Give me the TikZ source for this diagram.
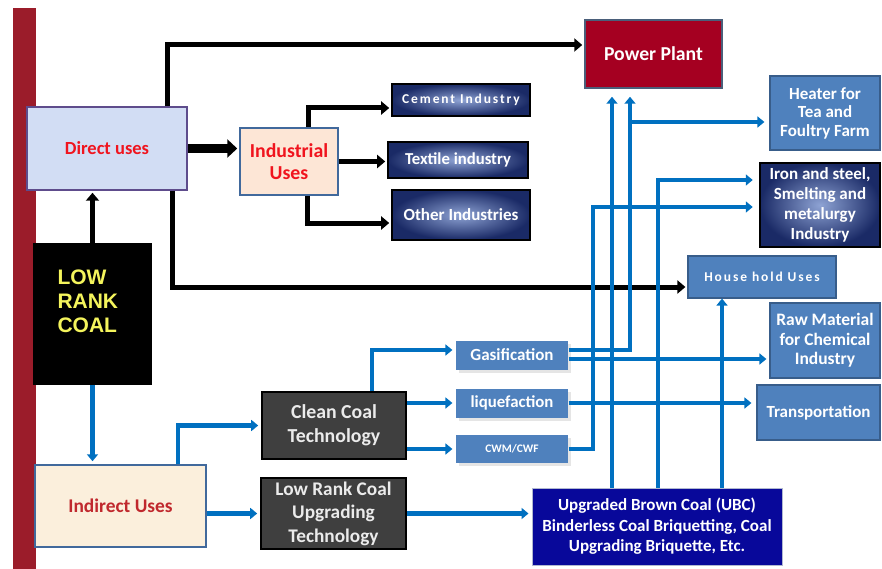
\documentclass[tikz,border=0pt]{standalone}
\usepackage{fontspec}
\setmainfont{Carlito}
\newfontfamily\arialbf{Liberation Sans}
\newfontfamily\spaced[LetterSpace=14]{Carlito}
\usetikzlibrary{arrows.meta,positioning,calc,shadows}
\definecolor{barred}{HTML}{9B1C2A}
\definecolor{ppred}{HTML}{A50021}
\definecolor{ppedge}{HTML}{4A5F7A}
\definecolor{flowblue}{HTML}{0070C0}
\definecolor{steelfill}{HTML}{4F81BD}
\definecolor{steeledge}{HTML}{385D8A}
\definecolor{navyin}{HTML}{8EA3D4}
\definecolor{navyout}{HTML}{1A2A66}
\definecolor{darkfill}{HTML}{3F3F3F}
\definecolor{ubcfill}{HTML}{08089A}
\definecolor{ubcedge}{HTML}{B0B8D0}
\definecolor{peachfill}{HTML}{FDE6D6}
\definecolor{creamfill}{HTML}{FBEFDC}
\definecolor{directfill}{HTML}{D2DDF4}
\definecolor{directedge}{HTML}{5E4C8C}
\definecolor{boxedge}{HTML}{41699C}
\definecolor{coalyel}{HTML}{F4F45C}
\definecolor{usered}{HTML}{F0141E}
\definecolor{indred}{HTML}{C0282D}
\newcommand{\sz}[2]{\fontsize{#1}{#2}\selectfont}

\begin{document}
\begin{tikzpicture}[x=1pt, y=-1pt,
  box/.style={rectangle, align=center, inner sep=2pt, font=\bfseries},
  steel/.style={box, fill=steelfill, draw=steeledge, line width=1.2pt, text=white},
  navy/.style={box, inner color=navyin, outer color=navyout, draw=black,
               line width=1.6pt, text=white},
  dark/.style={box, fill=darkfill, draw=black, line width=1.6pt, text=black!8},
  tech/.style={steel, draw=none, minimum width=112pt, minimum height=29pt,
               general shadow={fill=black!10, shadow xshift=2.5pt, shadow yshift=-3pt}},
  blk/.style={-{Triangle[length=8pt,width=13pt]}, line width=5pt, draw=black,
              shorten >=2pt},
  blu/.style={-{Triangle[length=7pt,width=11pt]}, line width=4.5pt, draw=flowblue,
              shorten >=3pt},
]
\useasboundingbox (0,0) rectangle (882,569);

% ---- left column ----
\fill[barred] (13,8) rectangle (36,569);
\node[box, fill=directfill, draw=directedge, line width=1.5pt, text=usered,
      minimum width=160pt, minimum height=83pt, font=\bfseries\sz{18.5}{22}]
      (direct) at (107,148.5) {Direct uses};
\node[box, fill=black, minimum width=119pt, minimum height=142pt,
      label={[text=coalyel, font=\arialbf\bfseries\sz{21}{24}, align=left,
              text width=70pt, yshift=13pt]center:LOW\\RANK\\COAL}]
      (lrc) at (92.5,314) {};
\node[box, fill=creamfill, draw=boxedge, line width=1.5pt, text=indred,
      minimum width=171pt, minimum height=82pt, font=\bfseries\sz{19.4}{22}]
      (indir) at (120.5,506) {Indirect Uses};

% ---- industrial branch ----
\node[box, fill=peachfill, draw=boxedge, line width=1.5pt, text=usered,
      minimum width=98pt, minimum height=67pt, font=\bfseries\sz{19.8}{22}]
      (ind) at (289,161.5) {Industrial\\Uses};
\node[navy, minimum width=138pt, minimum height=32pt, font=\spaced\bfseries\sz{13.5}{15}]
      (cem) at (461,100) {Cement Industry};
\node[navy, minimum width=140pt, minimum height=36pt, font=\bfseries\sz{16.7}{19}]
      (tex) at (458,160) {Textile industry};
\node[navy, minimum width=138pt, minimum height=50pt, font=\bfseries\sz{17}{19}]
      (oth) at (461,215) {Other Industries};
\node[box, fill=ppred, draw=ppedge, line width=1.5pt, text=white,
      minimum width=137pt, minimum height=68pt, font=\bfseries\sz{19.7}{22}]
      (pp) at (653.5,54) {Power Plant};

% ---- technologies ----
\node[dark, minimum width=144pt, minimum height=67pt, font=\bfseries\sz{19.8}{24}]
      (cct) at (334,425.5) {Clean Coal\\Technology};
\node[dark, minimum width=145pt, minimum height=71pt, font=\bfseries\sz{19.3}{23.5}]
      (lrcu) at (333.5,513.5) {Low Rank Coal\\Upgrading\\Technology};
\node[tech, font=\bfseries\sz{17}{18}] (gas) at (512,355) {Gasification};
\node[tech, font=\bfseries\sz{16.8}{18}] (liq) at (512,403) {liquefaction};
\node[tech, minimum height=28pt, font=\bfseries\sz{11.5}{13}] (cwm) at (512,449) {CWM/CWF};
\node[box, fill=ubcfill, draw=ubcedge, line width=1pt, text=white,
      minimum width=250pt, minimum height=77pt, font=\bfseries\sz{17}{20.5}]
      (ubc) at (657,526.5) {Upgraded Brown Coal (UBC)\\Binderless Coal Briquetting, Coal\\Upgrading Briquette, Etc.};

% ---- end uses (right) ----
\node[steel, minimum width=110pt, minimum height=74pt, font=\bfseries\sz{17}{18.5}]
      (heat) at (825,113) {Heater for\\Tea and\\Foultry Farm};
\node[navy, line width=2.5pt, minimum width=120pt, minimum height=84pt,
      font=\bfseries\sz{17}{20}] (iron) at (820,205) {Iron and steel,\\Smelting and\\metalurgy\\Industry};
\node[steel, minimum width=148pt, minimum height=42pt, font=\spaced\bfseries\sz{13.5}{15}]
      (hh) at (762,277) {House hold Uses};
\node[steel, minimum width=110pt, minimum height=75pt, font=\bfseries\sz{17.5}{19.5}]
      (raw) at (825,340.5) {Raw Material\\for Chemical\\Industry};
\node[steel, minimum width=123pt, minimum height=55pt, font=\bfseries\sz{17}{19}]
      (trans) at (818.5,412.5) {Transportation};

% ---- black flows (direct uses) ----
\draw[blk] (lrc.north) -- (lrc.north |- direct.south);
\draw[blk] ([xshift=60pt]direct.north) |- ([yshift=9pt]pp.west);
\draw[blk, line width=9pt, -{Triangle[length=10pt,width=18pt]}]
  (direct.east) -- (direct.east -| ind.west);
\draw[blk] ([xshift=19pt]ind.north) |- ([yshift=-8pt]cem.west);
\draw[blk] (ind.east) -- (ind.east -| tex.west);
\draw[blk] ([xshift=18pt]ind.south) |- ([yshift=-8pt]oth.west);
\draw[blk] ([xshift=65pt]direct.south) |- ([yshift=-10pt]hh.west);

% ---- blue flows (indirect uses) ----
\draw[blu] (lrc.south) -- (lrc.south |- indir.north);
\draw[blu] ([xshift=57.5pt]indir.north) |- (cct.west);
\draw[blu] (indir.east |- lrcu.west) -- (lrcu.west);
\draw[blu] ([xshift=38pt]cct.north) |- ([yshift=5pt]gas.west);
\draw[blu] (cct.east |- liq.west) -- (liq.west);
\draw[blu] (cct.east |- cwm.west) -- (cwm.west);
\draw[blu] (lrcu.east) -- (lrcu.east -| ubc.west);

% ---- distribution bus ----
\coordinate (b1) at (593,0);
\coordinate (b2) at (612,0);
\coordinate (b3) at (630,0);
\coordinate (b4) at (658,0);
\coordinate (b5) at (722,0);
\coordinate (g1) at ([yshift=5pt]gas.east);
\coordinate (g2) at ([yshift=-4pt]gas.east);
\coordinate (h1) at ([yshift=-9pt]heat.west);
\coordinate (i1) at ([yshift=25pt]iron.west);
\coordinate (i2) at ([yshift=-2pt]iron.west);

\draw[blu, shorten >=8pt] (g1) -| (b3 |- pp.south);
\draw[blu, shorten >=5pt] (h1 -| b3) -- (h1);
\draw[blu] (g2) -- (g2 -| raw.west);
\draw[blu, shorten >=5pt] (liq.east) -- (liq.east -| trans.west);
\draw[blu, shorten >=6pt] (cwm.east) -| (i2 -| b1) -- (i2);
\draw[blu, shorten >=8pt] (ubc.north -| b2) -- (b2 |- pp.south);
\draw[blu, shorten >=6pt] (ubc.north -| b4) |- (i1);
\draw[blu, shorten >=0pt] (ubc.north -| b5) -- (b5 |- hh.south);
\end{tikzpicture}
\end{document}
